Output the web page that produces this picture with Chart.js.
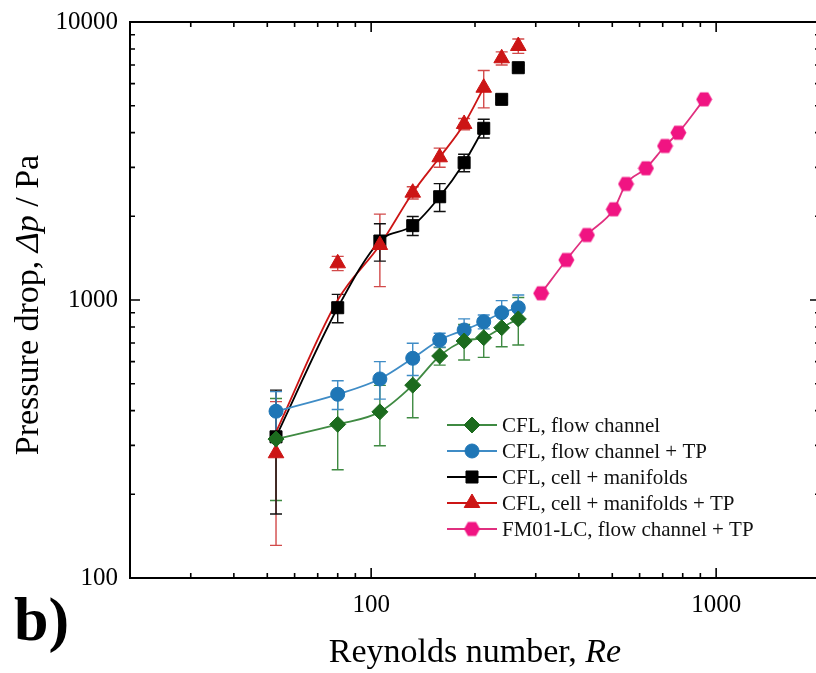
<!DOCTYPE html>
<html>
<head>
<meta charset="utf-8">
<script src="https://cdn.jsdelivr.net/npm/chart.js@4.4.1/dist/chart.umd.min.js"></script>
<style>
  html, body { margin: 0; padding: 0; background: #fff; overflow: hidden; }
  #wrap { width: 830px; height: 673px; }
</style>
</head>
<body>
<div id="wrap"><canvas id="chart" width="830" height="673"></canvas></div>
<script>
// Reynolds numbers of the CFL runs
var reCFL = [53, 80, 106, 132, 158, 186, 212, 239, 267];

// pressure drop (Pa) and error (Pa) per series
var dpFlowChannel = [316, 357, 396, 494, 629, 712, 732, 795, 855];
var errFlowChannel = [126, 112, 97, 117, 46, 104, 110, 116, 166];
var dpFlowChannelTP = [398, 458, 520, 617, 718, 780, 835, 900, 938];
var errFlowChannelTP = [70, 54, 80, 82, 41, 75, 48, 95, 104];
var dpCell = [322, 938, 1630, 1851, 2352, 3118, 4146, 5270, 6848];
var errCell = [152, 110, 250, 145, 270, 225, 321, 150, 150];
var dpCellTP = [281, 1355, 1577, 2432, 3261, 4297, 5802, 7405, 8198];
var errCellTP = [150, 80, 460, 124, 258, 200, 890, 400, 489];

// the red fitted curve
var reCellTPFit = [53, 80, 106, 132, 158, 186, 212];
var dpCellTPFit = [335, 1000, 1577, 2432, 3261, 4297, 5802];

// FM01-LC
var reFM01 = [311, 368, 422, 505, 548, 626, 711, 777, 923];
var dpFM01 = [1057, 1393, 1713, 2120, 2614, 2977, 3581, 3998, 5270];

var xTickLabels = [100, 1000];
var yTickLabels = [100, 1000, 10000];

var legendLabels = ['CFL, flow channel', 'CFL, flow channel + TP', 'CFL, cell + manifolds',
    'CFL, cell + manifolds + TP', 'FM01-LC, flow channel + TP'];

// axis titles as [text, italic] pieces
var xTitle = [['Reynolds number, ', false], ['Re', true]];
var yTitle = [['Pressure drop, ', false], ['Δp', true], [' / Pa', false]];

var SERIF = "'Liberation Serif', 'Times New Roman', serif";
var GREEN = '#1c6b1e', GREEN_L = '#3f8a42';
var BLUE = '#1f76b6', BLUE_L = '#3f8cc6';
var RED = '#cc1515', RED_L = '#d24a4a';
var PINK = '#f01482', PINK_L = '#e0307f';

function pts(xs, ys) {
    return xs.map(function (x, i) { return {x: x, y: ys[i]}; });
}

// hexagon marker, Chart.js has none
var hexagon = document.createElement('canvas');
hexagon.width = 17; hexagon.height = 17;
(function () {
    var c = hexagon.getContext('2d');
    c.beginPath();
    for (var k = 0; k < 6; k++) {
        var a = Math.PI / 3 * k;
        var px = 8.5 + 8 * Math.cos(a), py = 8.5 + 8 * Math.sin(a);
        if (k == 0) c.moveTo(px, py); else c.lineTo(px, py);
    }
    c.closePath();
    c.fillStyle = PINK;
    c.fill();
})();

var markers = [
    {style: 'rectRot', r: 8, color: GREEN, line: GREEN_L},
    {style: 'circle', r: 7, color: BLUE, line: BLUE_L},
    {style: 'rect', r: 8.5, color: '#000', line: '#000'},
    {style: 'triangle', r: 9, color: RED, line: RED},
    {style: hexagon, r: 8, color: PINK, line: PINK_L}
];

function markerSet(label, data, m, errs, errColor, showLine, order) {
    return {
        label: label, data: data, order: order,
        showLine: showLine, borderColor: m.line, borderWidth: 1.8,
        cubicInterpolationMode: 'monotone',
        pointStyle: m.style, pointRadius: m.r, pointHoverRadius: m.r,
        pointBackgroundColor: m.color, pointBorderColor: m.color, pointBorderWidth: 1,
        errors: errs, errColor: errColor
    };
}

function drawPieces(ctx, pieces, size) {
    var total = 0;
    pieces.forEach(function (p) {
        ctx.font = (p[1] ? 'italic ' : '') + size + 'px ' + SERIF;
        total += ctx.measureText(p[0]).width;
    });
    var x = -total / 2;
    pieces.forEach(function (p) {
        ctx.font = (p[1] ? 'italic ' : '') + size + 'px ' + SERIF;
        ctx.fillText(p[0], x, 0);
        x += ctx.measureText(p[0]).width;
    });
}

var errorBars = {
    id: 'errorBars',
    beforeDatasetsDraw: function (chart) {
        var ctx = chart.ctx, xs = chart.scales.x, ys = chart.scales.y;
        ctx.save();
        ctx.lineWidth = 1.4;
        chart.data.datasets.forEach(function (ds) {
            if (!ds.errors) return;
            ctx.strokeStyle = ds.errColor;
            ds.data.forEach(function (p, i) {
                var px = xs.getPixelForValue(p.x);
                var top = ys.getPixelForValue(p.y + ds.errors[i]);
                var bot = ys.getPixelForValue(p.y - ds.errors[i]);
                ctx.beginPath();
                ctx.moveTo(px, top); ctx.lineTo(px, bot);
                ctx.moveTo(px - 6, top); ctx.lineTo(px + 6, top);
                ctx.moveTo(px - 6, bot); ctx.lineTo(px + 6, bot);
                ctx.stroke();
            });
        });
        ctx.restore();
    }
};

var frame = {
    id: 'frame',
    beforeDraw: function (chart) {
        var ctx = chart.ctx;
        ctx.save();
        ctx.fillStyle = '#fff';
        ctx.fillRect(0, 0, chart.width, chart.height);
        ctx.restore();
    },
    afterDraw: function (chart) {
        var ctx = chart.ctx, a = chart.chartArea, xs = chart.scales.x, ys = chart.scales.y;
        ctx.save();
        ctx.strokeStyle = '#000';
        ctx.lineWidth = 2;
        ctx.strokeRect(a.left, a.top, a.right - a.left, a.bottom - a.top);
        ctx.lineWidth = 1.6;
        ctx.beginPath();
        // x ticks, bottom and top, pointing in
        for (var d = 10; d <= 1000; d *= 10) {
            for (var k = 1; k <= 9; k++) {
                var v = d * k;
                if (v < xs.min || v > xs.max) continue;
                var px = xs.getPixelForValue(v), len = k == 1 ? 10 : 5;
                ctx.moveTo(px, a.bottom); ctx.lineTo(px, a.bottom - len);
                ctx.moveTo(px, a.top); ctx.lineTo(px, a.top + len);
            }
        }
        // y ticks, left and right
        for (var d2 = 100; d2 <= 10000; d2 *= 10) {
            for (var k2 = 1; k2 <= 9; k2++) {
                var w = d2 * k2;
                if (w > ys.max) continue;
                var py = ys.getPixelForValue(w), len2 = k2 == 1 ? 10 : 5;
                ctx.moveTo(a.left, py); ctx.lineTo(a.left + len2, py);
                ctx.moveTo(a.right, py); ctx.lineTo(a.right - len2, py);
            }
        }
        ctx.stroke();

        // axis titles
        ctx.fillStyle = '#000';
        ctx.textBaseline = 'alphabetic';
        ctx.save();
        ctx.translate((a.left + a.right) / 2, 662);
        drawPieces(ctx, xTitle, 34);
        ctx.restore();
        ctx.save();
        ctx.translate(38, (a.top + a.bottom) / 2 + 5);
        ctx.rotate(-Math.PI / 2);
        drawPieces(ctx, yTitle, 34);
        ctx.restore();

        // legend
        ctx.font = '21px ' + SERIF;
        ctx.textBaseline = 'middle';
        legendLabels.forEach(function (t, i) {
            var y = 425 + 26 * i, m = markers[i];
            ctx.strokeStyle = m.line;
            ctx.lineWidth = 1.8;
            ctx.beginPath();
            ctx.moveTo(447, y); ctx.lineTo(497, y);
            ctx.stroke();
            if (typeof m.style == 'string') {
                ctx.fillStyle = m.color;
                ctx.strokeStyle = m.color;
                ctx.lineWidth = 1;
                Chart.helpers.drawPoint(ctx, {pointStyle: m.style, radius: m.r, borderWidth: 1}, 472, y);
            } else {
                ctx.drawImage(m.style, 472 - 8.5, y - 8.5);
            }
            ctx.fillStyle = '#111';
            ctx.fillText(t, 502, y + 1);
        });

        // panel letter
        ctx.font = 'bold 62px ' + SERIF;
        ctx.textBaseline = 'alphabetic';
        ctx.fillStyle = '#000';
        ctx.fillText('b)', 14, 640);
        ctx.restore();
    }
};

var ctx = document.getElementById('chart').getContext('2d');
new Chart(ctx, {
    type: 'line',
    data: {
        datasets: [
            markerSet(legendLabels[0], pts(reCFL, dpFlowChannel), markers[0], errFlowChannel, GREEN_L, true, 1),
            markerSet(legendLabels[3], pts(reCFL, dpCellTP), markers[3], errCellTP, RED_L, false, 2),
            markerSet(legendLabels[2], pts(reCFL, dpCell), markers[2], errCell, '#111', false, 3),
            markerSet(legendLabels[1], pts(reCFL, dpFlowChannelTP), markers[1], errFlowChannelTP, BLUE_L, true, 4),
            markerSet(legendLabels[4], pts(reFM01, dpFM01), markers[4], null, null, true, 5),
            {
                label: 'cell line', data: pts(reCFL.slice(0, 7), dpCell.slice(0, 7)), order: 20,
                borderColor: '#000', borderWidth: 1.8, pointRadius: 0, cubicInterpolationMode: 'monotone'
            },
            {
                label: 'cell TP fit', data: pts(reCellTPFit, dpCellTPFit), order: 20,
                borderColor: RED, borderWidth: 1.8, pointRadius: 0, cubicInterpolationMode: 'monotone'
            }
        ]
    },
    options: {
        responsive: false,
        devicePixelRatio: 1,
        animation: false,
        layout: {padding: {left: 0, top: 22, right: 9, bottom: 0}},
        plugins: {legend: {display: false}, tooltip: {enabled: false}},
        scales: {
            x: {
                type: 'logarithmic', min: 20, max: 2000, position: 'bottom',
                grid: {display: false}, border: {display: false},
                afterBuildTicks: function (s) { s.ticks = xTickLabels.map(function (v) { return {value: v}; }); },
                afterFit: function (s) { s.height = 95; },
                ticks: {
                    autoSkip: false, maxRotation: 0, padding: 4, color: '#000',
                    font: {family: SERIF, size: 25},
                    callback: function (v) { return String(v); }
                }
            },
            y: {
                type: 'logarithmic', min: 100, max: 10000,
                grid: {display: false}, border: {display: false},
                afterBuildTicks: function (s) { s.ticks = yTickLabels.map(function (v) { return {value: v}; }); },
                afterFit: function (s) { s.width = 130; },
                ticks: {
                    autoSkip: false, padding: 4, color: '#000',
                    font: {family: SERIF, size: 25},
                    callback: function (v) { return String(v); }
                }
            }
        }
    },
    plugins: [frame, errorBars]
});
</script>
</body>
</html>
